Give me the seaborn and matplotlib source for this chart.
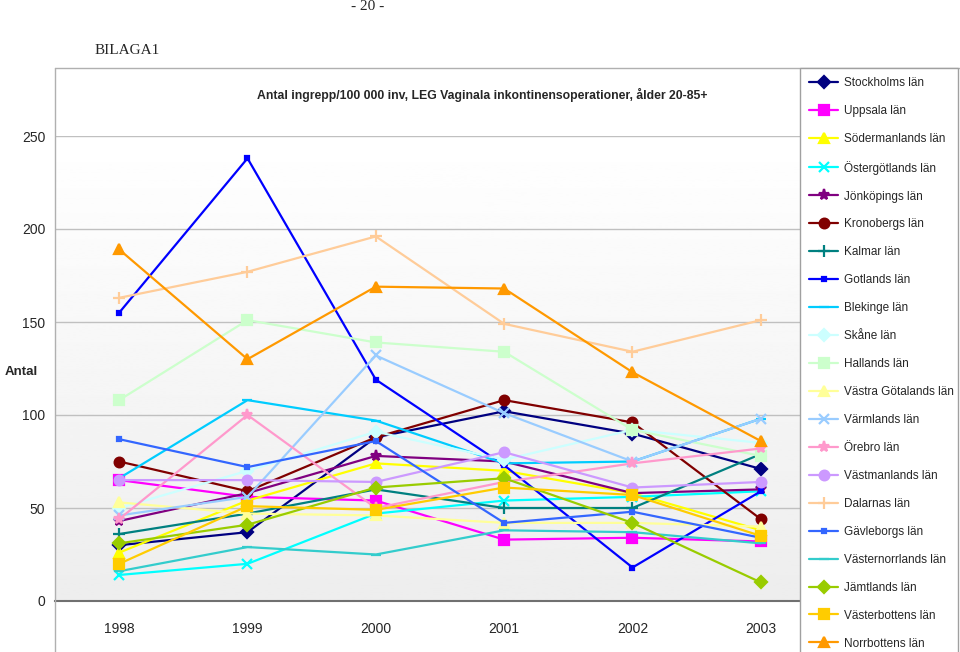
import numpy as np
import pandas as pd
import seaborn as sns
import matplotlib.pyplot as plt
from matplotlib.lines import Line2D

# data (ingrepp per 100 000 inv)
years = [1998, 1999, 2000, 2001, 2002, 2003]
lan = ['Stockholms län', 'Uppsala län', 'Södermanlands län', 'Östergötlands län',
       'Jönköpings län', 'Kronobergs län', 'Kalmar län', 'Gotlands län',
       'Blekinge län', 'Skåne län', 'Hallands län', 'Västra Götalands län',
       'Värmlands län', 'Örebro län', 'Västmanlands län', 'Dalarnas län',
       'Gävleborgs län', 'Västernorrlands län', 'Jämtlands län',
       'Västerbottens län', 'Norrbottens län']

stockholm = [30, 37, 88, 102, 90, 71]
uppsala = [65, 56, 54, 33, 34, 32]
sodermanland = [26, 54, 74, 70, 58, 38]
ostergotland = [14, 20, 47, 54, 56, 59]
jonkoping = [43, 58, 78, 75, 58, 60]
kronoberg = [75, 59, 88, 108, 96, 44]
kalmar = [36, 47, 60, 50, 50, 79]
gotland = [155, 238, 119, 73, 18, 59]
blekinge = [66, 108, 97, 74, 75, 98]
skane = [50, 70, 91, 76, 92, 85]
halland = [108, 151, 139, 134, 92, 78]
vastra_gotaland = [53, 47, 46, 42, 42, 40]
varmland = [46, 56, 132, 101, 75, 98]
orebro = [44, 100, 50, 64, 74, 82]
vastmanland = [65, 65, 64, 80, 61, 64]
dalarna = [163, 177, 196, 149, 134, 151]
gavleborg = [87, 72, 86, 42, 48, 34]
vasternorrland = [16, 29, 25, 38, 37, 31]
jamtland = [31, 41, 61, 66, 42, 10]
vasterbotten = [20, 51, 49, 61, 57, 35]
norrbotten = [189, 130, 169, 168, 123, 86]

values = [stockholm, uppsala, sodermanland, ostergotland, jonkoping, kronoberg,
          kalmar, gotland, blekinge, skane, halland, vastra_gotaland, varmland,
          orebro, vastmanland, dalarna, gavleborg, vasternorrland, jamtland,
          vasterbotten, norrbotten]

colors = ['#000080', '#FF00FF', '#FFFF00', '#00FFFF', '#800080', '#800000',
          '#008080', '#0000FF', '#00CCFF', '#CCFFFF', '#CCFFCC', '#FFFF99',
          '#99CCFF', '#FF99CC', '#CC99FF', '#FFCC99', '#3366FF', '#33CCCC',
          '#99CC00', '#FFCC00', '#FF9900']
markers = ['D', 's', '^', 'x', '*', 'o', '+', 's', '_', 'D', 's', '^',
           'x', '*', 'o', '+', 's', '_', 'D', 's', '^']
msizes = [6, 7, 7, 7, 8, 7, 8, 3, 7, 6, 7, 7, 7, 8, 7, 8, 3, 7, 6, 7, 7]

rows = []
for name, vals in zip(lan, values):
    for yr, v in zip(years, vals):
        rows.append({'lan': name, 'year': yr, 'antal': v})
df = pd.DataFrame(rows)

sns.set_style('white')
plt.rcParams['font.family'] = ['Liberation Sans', 'DejaVu Sans']
narrow = ['Liberation Sans Narrow', 'Liberation Sans', 'DejaVu Sans']

fig = plt.figure(figsize=(9.6, 6.52), dpi=100)
ax = fig.add_axes([55 / 960, 51 / 652, 770 / 960, 465 / 652])

# grey-to-white plot area background
grad = np.linspace(0.93, 1.0, 256)[:, None]
ax.imshow(grad, extent=[1997.5, 2003.5, 250, 0], aspect='auto', cmap='gray',
          vmin=0, vmax=1, zorder=0)

for name, c, m, ms in zip(lan, colors, markers, msizes):
    sns.lineplot(data=df[df['lan'] == name], x='year', y='antal', ax=ax,
                 color=c, marker=m, markersize=ms, mec=c, mfc=c, mew=1.6,
                 linewidth=1.6, label=name, legend=False, zorder=3)

ax.set_xlim(1997.5, 2003.5)
ax.set_ylim(0, 250)
ax.set_yticks([0, 50, 100, 150, 200, 250])
ax.set_xticks(years)
ax.set_xticks([1998.5, 1999.5, 2000.5, 2001.5, 2002.5], minor=True)
ax.grid(axis='y', color='#c0c0c0', linewidth=1, zorder=1)
ax.set_axisbelow(True)
ax.tick_params(axis='x', which='major', length=0, pad=15, labelsize=10)
ax.tick_params(axis='x', which='minor', length=5, color='#808080', width=1, direction='out')
ax.tick_params(axis='y', length=0, pad=7, labelsize=10)
ax.set_xlabel('')
ax.set_ylabel('')
for s in ['top', 'right', 'left']:
    ax.spines[s].set_visible(False)
ax.spines['bottom'].set_color('#707070')
ax.spines['bottom'].set_linewidth(1.5)

# chart border
fig.add_artist(Line2D([55 / 960, 55 / 960], [0, 1 - 68 / 652], color='#b0b0b0', lw=1))
fig.add_artist(Line2D([55 / 960, 1], [1 - 68 / 652, 1 - 68 / 652], color='#b0b0b0', lw=1))

fig.text(482 / 960, 1 - 95 / 652,
         'Antal ingrepp/100 000 inv, LEG Vaginala inkontinensoperationer, ålder 20-85+',
         ha='center', va='center', fontsize=8.8, fontweight='bold', family=narrow)
fig.text(5 / 960, 1 - 372 / 652, 'Antal', ha='left', va='center', fontsize=9.5,
         fontweight='bold', family=narrow)
fig.text(368 / 960, 1 - 6 / 652, '- 20 -', ha='center', va='center', fontsize=11,
         family=['Liberation Serif', 'DejaVu Serif'])
fig.text(95 / 960, 1 - 50 / 652, 'BILAGA1', ha='left', va='center', fontsize=11,
         family=['Liberation Serif', 'DejaVu Serif'])

handles = ax.get_lines()
handles = [h for h in handles if h.get_label() in lan]
leg = fig.legend(handles, lan, loc='upper left',
                 bbox_to_anchor=(800 / 960, 0, 158 / 960, 1 - 68 / 652),
                 mode='expand', borderaxespad=0, borderpad=0.75,
                 handlelength=2.5, handletextpad=0.45, labelspacing=1.35,
                 frameon=True, fancybox=False, framealpha=1,
                 prop={'family': narrow, 'size': 8.5})
leg.get_frame().set_edgecolor('#a0a0a0')
leg.get_frame().set_linewidth(1)

plt.savefig('out.png', dpi=100)
